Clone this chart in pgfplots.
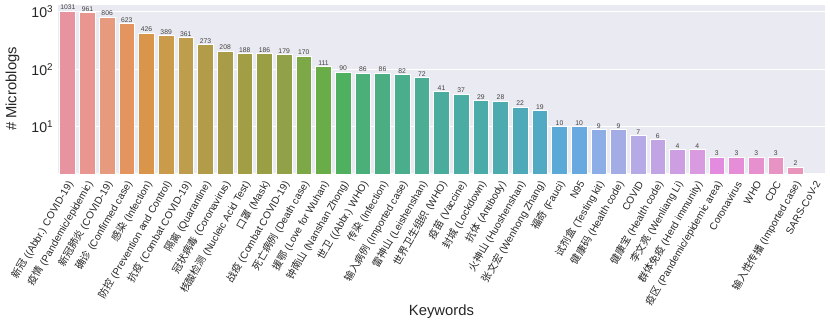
\documentclass[border=0pt]{standalone}
\usepackage{fontspec}
\setmainfont{Liberation Sans}
\newfontfamily\cjk{Noto Sans CJK SC}
\usepackage{pgfplots}
\pgfplotsset{compat=1.18}

\definecolor{panelbg}{HTML}{EAEAF2}
\definecolor{c1}{HTML}{E893A0}
\definecolor{c2}{HTML}{E8968F}
\definecolor{c3}{HTML}{E69A7E}
\definecolor{c4}{HTML}{E4955F}
\definecolor{c5}{HTML}{D9964A}
\definecolor{c6}{HTML}{CB9B4C}
\definecolor{c7}{HTML}{BE9D4D}
\definecolor{c8}{HTML}{B29C4A}
\definecolor{c9}{HTML}{A99C48}
\definecolor{c10}{HTML}{A29E46}
\definecolor{c11}{HTML}{9A9F46}
\definecolor{c12}{HTML}{91A147}
\definecolor{c13}{HTML}{7CA848}
\definecolor{c14}{HTML}{68AD48}
\definecolor{c15}{HTML}{4FB15F}
\definecolor{c16}{HTML}{4BAF7A}
\definecolor{c17}{HTML}{4BAE83}
\definecolor{c18}{HTML}{4AAD8C}
\definecolor{c19}{HTML}{4AAD94}
\definecolor{c20}{HTML}{4AAC9C}
\definecolor{c21}{HTML}{4BACA3}
\definecolor{c22}{HTML}{4BABA9}
\definecolor{c23}{HTML}{4DABB0}
\definecolor{c24}{HTML}{4EAAB8}
\definecolor{c25}{HTML}{52A9C3}
\definecolor{c26}{HTML}{5BA9D6}
\definecolor{c27}{HTML}{68AAE0}
\definecolor{c28}{HTML}{8CADE6}
\definecolor{c29}{HTML}{A3ACE5}
\definecolor{c30}{HTML}{B5A9E6}
\definecolor{c31}{HTML}{C1A4E4}
\definecolor{c32}{HTML}{CD9FE2}
\definecolor{c33}{HTML}{D99BE0}
\definecolor{c34}{HTML}{E38BDF}
\definecolor{c35}{HTML}{E58ED7}
\definecolor{c36}{HTML}{E690CF}
\definecolor{c37}{HTML}{E793C4}
\definecolor{c38}{HTML}{E795BA}

\pgfplotsset{
  kw/.style={fill=#1, draw=white, line width=0.7pt},
}

\begin{document}
\begin{tikzpicture}
\fill[panelbg] (0,0) rectangle (575.25pt,126pt);
\begin{axis}[
  at={(0,0)}, anchor=south west,
  scale only axis,
  width=575.25pt, height=126pt,
  ymode=log,
  ymin=1.58, ymax=1320,
  xmin=-0.5, xmax=38.5,
  ybar, bar width=0.8, bar shift=0pt,
  axis line style={draw=none},
  major tick style={draw=none},
  minor tick style={draw=none},
  ytick={10,100,1000},
  yticklabels={10\textsuperscript{1},10\textsuperscript{2},10\textsuperscript{3}},
  yticklabel style={font=\fontsize{10.6}{12}\selectfont, text=black!85},
  xtick={0,...,38},
  xticklabels={
    {{\cjk 新冠} ((Abbr.) COVID-19)},
    {{\cjk 疫情} (Pandemic/epidemic)},
    {{\cjk 新冠肺炎} (COVID-19)},
    {{\cjk 确诊} (Confirmed case)},
    {{\cjk 感染} (Infection)},
    {{\cjk 防控} (Prevention and Control)},
    {{\cjk 抗疫} (Combat COVID-19)},
    {{\cjk 隔离} (Quarantine)},
    {{\cjk 冠状病毒} (Coronavirus)},
    {{\cjk 核酸检测} (Nucleic Acid Test)},
    {{\cjk 口罩} (Mask)},
    {{\cjk 战疫} (Combat COVID-19)},
    {{\cjk 死亡病例} (Death case)},
    {{\cjk 援鄂} (Love for Wuhan)},
    {{\cjk 钟南山} (Nanshan Zhong)},
    {{\cjk 世卫} ((Abbr.) WHO)},
    {{\cjk 传染} (Infection)},
    {{\cjk 输入病例} (Imported case)},
    {{\cjk 雷神山} (Leishenshan)},
    {{\cjk 世界卫生组织} (WHO)},
    {{\cjk 疫苗} (Vaccine)},
    {{\cjk 封城} (Lockdown)},
    {{\cjk 抗体} (Antibody)},
    {{\cjk 火神山} (Huoshenshan)},
    {{\cjk 张文宏} (Wenhong Zhang)},
    {{\cjk 福奇} (Fauci)},
    {N95},
    {{\cjk 试剂盒} (Testing kit)},
    {{\cjk 健康码} (Health code)},
    {COVID},
    {{\cjk 健康宝} (Health code)},
    {{\cjk 李文亮} (Wenliang Li)},
    {{\cjk 群体免疫} (Herd immunity)},
    {{\cjk 疫区} (Pandemic/epidemic area)},
    {Coronavirus},
    {WHO},
    {CDC},
    {{\cjk 输入性传播} (Imported case)},
    {SARS-CoV-2}},
  xticklabel style={font=\fontsize{7.6}{9}\selectfont, text=black!85,
    rotate=60, anchor=east, yshift=-3pt, inner sep=1pt},
  nodes near coords,
  point meta=explicit symbolic,
  every node near coord/.append style={font=\fontsize{5.1}{5.5}\selectfont,
    text=black!75, inner sep=0.6pt, anchor=south},
  clip mode=individual,
]
% panel and white grid drawn first, under the bars
\fill[panelbg] (rel axis cs:0,0) rectangle (rel axis cs:1,1);
\draw[white, line width=0.8pt] (axis cs:-0.5,10) -- (axis cs:38.5,10);
\draw[white, line width=0.8pt] (axis cs:-0.5,100) -- (axis cs:38.5,100);
\draw[white, line width=0.8pt] (axis cs:-0.5,1000) -- (axis cs:38.5,1000);
\addplot[kw=c1] coordinates {(0,1031) [1031]};
\addplot[kw=c2] coordinates {(1,961) [961]};
\addplot[kw=c3] coordinates {(2,806) [806]};
\addplot[kw=c4] coordinates {(3,623) [623]};
\addplot[kw=c5] coordinates {(4,426) [426]};
\addplot[kw=c6] coordinates {(5,389) [389]};
\addplot[kw=c7] coordinates {(6,361) [361]};
\addplot[kw=c8] coordinates {(7,273) [273]};
\addplot[kw=c9] coordinates {(8,208) [208]};
\addplot[kw=c10] coordinates {(9,188) [188]};
\addplot[kw=c11] coordinates {(10,186) [186]};
\addplot[kw=c12] coordinates {(11,179) [179]};
\addplot[kw=c13] coordinates {(12,170) [170]};
\addplot[kw=c14] coordinates {(13,111) [111]};
\addplot[kw=c15] coordinates {(14,90) [90]};
\addplot[kw=c16] coordinates {(15,86) [86]};
\addplot[kw=c17] coordinates {(16,86) [86]};
\addplot[kw=c18] coordinates {(17,82) [82]};
\addplot[kw=c19] coordinates {(18,72) [72]};
\addplot[kw=c20] coordinates {(19,41) [41]};
\addplot[kw=c21] coordinates {(20,37) [37]};
\addplot[kw=c22] coordinates {(21,29) [29]};
\addplot[kw=c23] coordinates {(22,28) [28]};
\addplot[kw=c24] coordinates {(23,22) [22]};
\addplot[kw=c25] coordinates {(24,19) [19]};
\addplot[kw=c26] coordinates {(25,10) [10]};
\addplot[kw=c27] coordinates {(26,10) [10]};
\addplot[kw=c28] coordinates {(27,9) [9]};
\addplot[kw=c29] coordinates {(28,9) [9]};
\addplot[kw=c30] coordinates {(29,7) [7]};
\addplot[kw=c31] coordinates {(30,6) [6]};
\addplot[kw=c32] coordinates {(31,4) [4]};
\addplot[kw=c33] coordinates {(32,4) [4]};
\addplot[kw=c34] coordinates {(33,3) [3]};
\addplot[kw=c35] coordinates {(34,3) [3]};
\addplot[kw=c36] coordinates {(35,3) [3]};
\addplot[kw=c37] coordinates {(36,3) [3]};
\addplot[kw=c38] coordinates {(37,2) [2]};
\end{axis}
\node[rotate=90, font=\fontsize{11.1}{13}\selectfont, text=black!85]
  at (-34pt,63pt) {\# Microblogs};
\node[anchor=base, font=\fontsize{11.1}{13}\selectfont, text=black!85]
  at (287.6pt,-107pt) {Keywords};
\pgfresetboundingbox
\path (-43.5pt,-114.75pt) rectangle (579pt,129.75pt);
\end{tikzpicture}
\end{document}
